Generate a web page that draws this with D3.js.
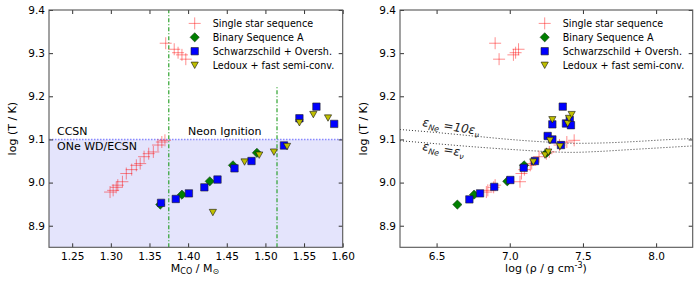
<!DOCTYPE html>
<html lang="en">
<head>
    <meta charset="UTF-8">
    <title>Neon ignition</title>
    <script src="https://d3js.org/d3.v7.min.js"></script>
    <style>
        body { margin: 0; background: white; }
        text { font-family: "DejaVu Sans", sans-serif; }
    </style>
</head>
<body>
    <script>
        // Data
        const tempTicks = [8.9, 9.0, 9.1, 9.2, 9.3, 9.4];
        const massTicks = [1.25, 1.30, 1.35, 1.40, 1.45, 1.50, 1.55, 1.60];
        const rhoTicks = [6.5, 7.0, 7.5, 8.0];

        // single star sequence (same stars in both panels)
        const singleT = [8.978, 8.982, 8.989, 8.994, 9.002, 9.021, 9.030, 9.040, 9.044, 9.060,
                         9.067, 9.071, 9.087, 9.094, 9.098, 9.323, 9.309, 9.301, 9.296, 9.286];
        const singleMass = [1.299, 1.303, 1.307, 1.309, 1.315, 1.320, 1.327, 1.333, 1.338, 1.343,
                            1.349, 1.355, 1.361, 1.366, 1.370, 1.371, 1.382, 1.387, 1.392, 1.397];
        const singleRho = [6.84, 6.85, 6.89, 6.90, 7.07, 7.08, 7.10, 7.14, 7.15, 7.20,
                           7.25, 7.27, 7.34, 7.39, 7.44, 6.90, 7.06, 7.04, 7.025, 6.927];

        // binary sequence A
        const binaryT = [8.949, 8.972, 9.003, 9.040, 9.069];
        const binaryMass = [1.364, 1.392, 1.428, 1.458, 1.489];
        const binaryRho = [6.642, 6.756, 6.983, 7.098, 7.252];

        // Schwarzschild + overshooting
        const schwMass = [[1.365, 8.953], [1.384, 8.962], [1.401, 8.975], [1.421, 8.989], [1.438, 9.007],
                          [1.460, 9.033], [1.482, 9.050], [1.524, 9.086], [1.544, 9.149], [1.566, 9.176],
                          [1.589, 9.136]];
        const schwRho = [[6.724, 8.961], [6.797, 8.975], [6.894, 8.990], [7.004, 9.006], [7.095, 9.034],
                         [7.172, 9.050], [7.350, 9.087], [7.259, 9.108], [7.291, 9.100], [7.291, 9.135],
                         [7.362, 9.176], [7.384, 9.137], [7.410, 9.145], [7.418, 9.133]];

        // Ledoux + fast semi-convection
        const ledMass = [[1.432, 8.931], [1.473, 9.048], [1.492, 9.064], [1.511, 9.071], [1.528, 9.084],
                         [1.544, 9.139], [1.562, 9.158], [1.581, 9.150]];
        const ledRho = [[7.161, 9.048], [7.241, 9.064], [7.263, 9.071], [7.275, 9.098], [7.343, 9.084],
                        [7.291, 9.146], [7.396, 9.137], [7.405, 9.149], [7.423, 9.158]];

        // eps_Ne = 10 eps_nu and eps_Ne = eps_nu curves
        const eps10 = [[6.25, 9.123], [6.5, 9.116], [6.75, 9.108], [7.0, 9.100], [7.25, 9.094],
                       [7.45, 9.091], [7.65, 9.092], [7.85, 9.095], [8.05, 9.099], [8.25, 9.102]];
        const eps1 = [[6.25, 9.097], [6.5, 9.090], [6.75, 9.083], [7.0, 9.077], [7.25, 9.072],
                      [7.42, 9.070], [7.6, 9.072], [7.8, 9.076], [8.0, 9.080], [8.25, 9.085]];

        const neonT = 9.1;
        const vlines = [[1.375, 9.4], [1.515, 9.225]];

        const legendLabels = ['Single star sequence', 'Binary Sequence A',
                              'Schwarzschild + Oversh.', 'Ledoux + fast semi-conv.'];

        const width = 699, height = 293;
        const yTop = 10, yBottom = 247.3;

        const svg = d3.select('body').append('svg')
            .attr('width', width)
            .attr('height', height);

        const y = d3.scaleLinear().domain([8.85, 9.4]).range([yBottom, yTop]);

        // marker shapes
        const crossPath = 'M-6,0H6M0,-6V6';
        const diamondPath = 'M0,-4.6L4.6,0L0,4.6L-4.6,0Z';
        const squarePath = 'M-3.7,-3.7h7.4v7.4h-7.4Z';
        const triPath = 'M-3.6,-3L3.6,-3L0,3.4Z';

        const styles = [
            g => g.attr('d', crossPath).attr('fill', 'none').attr('stroke', 'red').attr('stroke-opacity', 0.45).attr('stroke-width', 1),
            g => g.attr('d', diamondPath).attr('fill', '#008000').attr('stroke', '#1a3a1a').attr('stroke-width', 0.6),
            g => g.attr('d', squarePath).attr('fill', '#0000ff').attr('stroke', '#222').attr('stroke-width', 0.6),
            g => g.attr('d', triPath).attr('fill', '#bfbf00').attr('stroke', '#111').attr('stroke-width', 0.6)
        ];

        function drawPanel(x0, x1, domain, xTicks, fmt, series, extras) {
            const x = d3.scaleLinear().domain(domain).range([x0, x1]);
            const g = svg.append('g');
            const clipId = 'clip' + Math.round(x0);
            svg.append('clipPath').attr('id', clipId)
                .append('rect').attr('x', x0).attr('y', yTop).attr('width', x1 - x0).attr('height', yBottom - yTop);
            const plot = g.append('g').attr('clip-path', `url(#${clipId})`);

            extras(plot, x);

            series.forEach((pts, i) => {
                plot.selectAll(null)
                    .data(pts)
                    .enter()
                    .append('path')
                    .attr('transform', d => `translate(${x(d[0])},${y(d[1])})`)
                    .call(styles[i]);
            });

            // axes, ticks pointing inward on all four sides
            const ax = [
                d3.axisBottom(x).tickValues(xTicks).tickFormat(fmt).tickSizeInner(-4).tickSizeOuter(0).tickPadding(5),
                d3.axisTop(x).tickValues(xTicks).tickFormat('').tickSizeInner(-4).tickSizeOuter(0),
                d3.axisLeft(y).tickValues(tempTicks).tickFormat(d3.format('.1f')).tickSizeInner(-4).tickSizeOuter(0).tickPadding(4),
                d3.axisRight(y).tickValues(tempTicks).tickFormat('').tickSizeInner(-4).tickSizeOuter(0)
            ];
            const pos = [`translate(0,${yBottom})`, `translate(0,${yTop})`, `translate(${x0},0)`, `translate(${x1},0)`];
            ax.forEach((a, i) => {
                const ag = g.append('g').attr('transform', pos[i]).call(a);
                ag.select('.domain').remove();
                ag.selectAll('line').attr('stroke', '#333');
                ag.selectAll('text').attr('font-size', 10.5).attr('fill', '#000');
            });

            g.append('rect')
                .attr('x', x0).attr('y', yTop)
                .attr('width', x1 - x0).attr('height', yBottom - yTop)
                .attr('fill', 'none').attr('stroke', '#555').attr('stroke-width', 1.1);

            // y label
            g.append('text')
                .attr('transform', `translate(${x0 - 33},${(yTop + yBottom) / 2}) rotate(-90)`)
                .attr('text-anchor', 'middle')
                .attr('font-size', 11)
                .text('log (T / K)');

            // legend
            const lx = x1 - 148, tx = x1 - 130;
            legendLabels.forEach((lab, i) => {
                const ly = 23.4 + i * 13.9;
                g.append('path').attr('transform', `translate(${lx},${ly})`).call(styles[i]);
                g.append('text').attr('x', tx).attr('y', ly + 3.8)
                    .attr('font-size', 9.6).text(lab);
            });
            return x;
        }

        // Left panel: CO core mass
        drawPanel(49, 342.7, [1.22, 1.60], massTicks, d3.format('.2f'),
            [d3.zip(singleMass, singleT), d3.zip(binaryMass, binaryT), schwMass, ledMass],
            (plot, x) => {
                plot.append('rect')
                    .attr('x', x(1.22)).attr('y', y(neonT))
                    .attr('width', x(1.60) - x(1.22)).attr('height', y(8.85) - y(neonT))
                    .attr('fill', 'rgb(228,228,252)');
                plot.append('line')
                    .attr('x1', x(1.22)).attr('x2', x(1.60))
                    .attr('y1', y(neonT)).attr('y2', y(neonT))
                    .attr('stroke', '#8a8aff').attr('stroke-width', 1.5).attr('stroke-dasharray', '1.5,1.5');
                vlines.forEach(v => {
                    plot.append('line')
                        .attr('x1', x(v[0])).attr('x2', x(v[0]))
                        .attr('y1', y(8.85)).attr('y2', y(v[1]))
                        .attr('stroke', '#1a9a1a').attr('stroke-width', 1.1)
                        .attr('stroke-dasharray', '4,2,1,2');
                });
                plot.append('text').attr('x', 57).attr('y', y(neonT) - 4).attr('font-size', 11).text('CCSN');
                plot.append('text').attr('x', 57).attr('y', y(neonT) + 11).attr('font-size', 11).text('ONe WD/ECSN');
                plot.append('text').attr('x', 188).attr('y', y(neonT) - 4).attr('font-size', 11).text('Neon Ignition');
            });

        // Right panel: central density
        drawPanel(400, 692.7, [6.25, 8.25], rhoTicks, d3.format('.1f'),
            [d3.zip(singleRho, singleT), d3.zip(binaryRho, binaryT), schwRho, ledRho],
            (plot, x) => {
                const line = d3.line().x(d => x(d[0])).y(d => y(d[1])).curve(d3.curveMonotoneX);
                [eps10, eps1].forEach(c => {
                    plot.append('path').attr('d', line(c))
                        .attr('fill', 'none').attr('stroke', '#333')
                        .attr('stroke-width', 1).attr('stroke-dasharray', '1,2');
                });
                const lab = (yy, parts) => {
                    const t = plot.append('text')
                        .attr('transform', `translate(422,${yy}) rotate(9)`)
                        .attr('font-family', '"DejaVu Serif", serif')
                        .attr('font-style', 'italic')
                        .attr('font-size', 12).attr('fill', '#222');
                    parts.forEach(p => {
                        t.append('tspan').attr('dy', p[1]).attr('font-size', p[2]).text(p[0]);
                    });
                };
                lab(126, [['ε', 0, 12], ['Ne', 3, 8], [' =10ε', -3, 12], ['ν', 3, 8]]);
                lab(150, [['ε', 0, 12], ['Ne', 3, 8], [' =ε', -3, 12], ['ν', 3, 8]]);
            });

        // x labels
        const xl1 = svg.append('text').attr('x', 195).attr('y', 272).attr('text-anchor', 'middle').attr('font-size', 11);
        xl1.append('tspan').text('M');
        xl1.append('tspan').attr('font-size', 8).attr('dy', 2).text('CO');
        xl1.append('tspan').attr('dy', -2).text(' / M');
        xl1.append('tspan').attr('font-size', 8).attr('dy', 2).text('⊙');

        const xl2 = svg.append('text').attr('x', 546).attr('y', 272).attr('text-anchor', 'middle').attr('font-size', 11);
        xl2.append('tspan').text('log (ρ / g cm');
        xl2.append('tspan').attr('font-size', 8).attr('dy', -4).text('-3');
        xl2.append('tspan').attr('dy', 4).text(')');
    </script>
</body>
</html>
